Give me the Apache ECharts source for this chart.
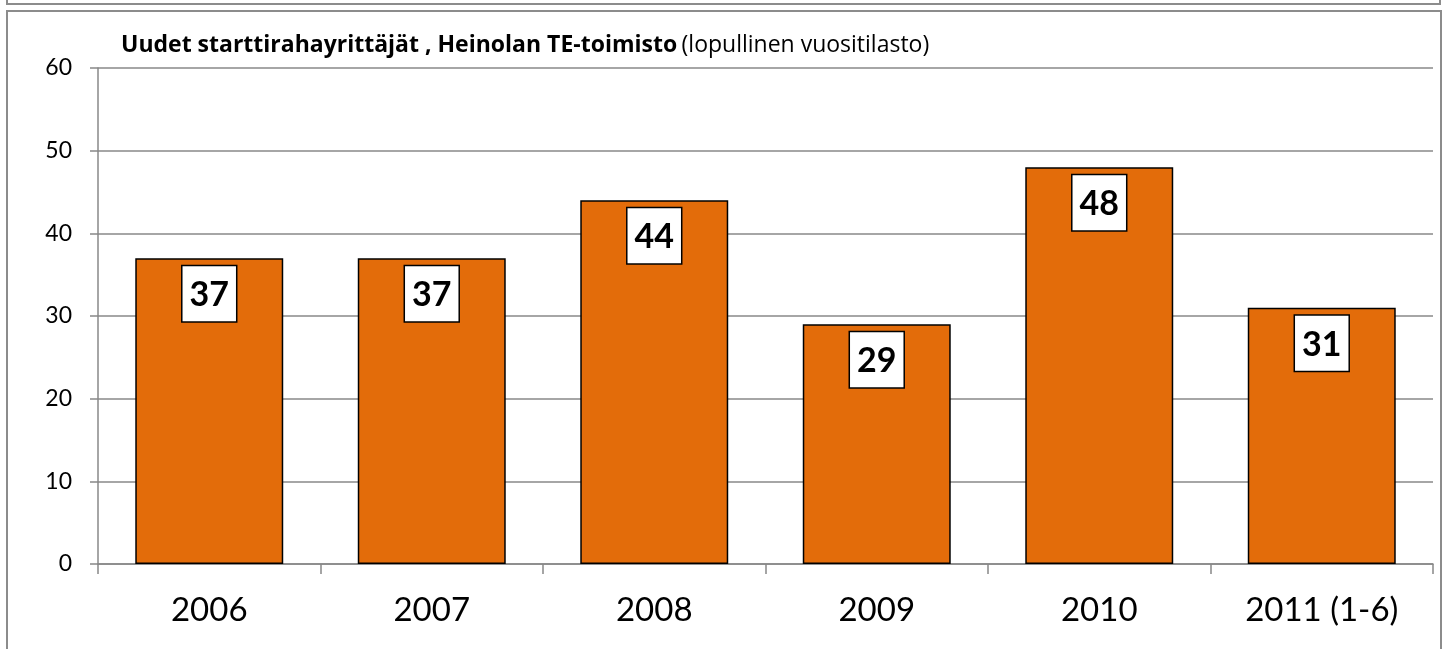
<!DOCTYPE html>
<html>
<head>
<meta charset="utf-8">
<script src="https://cdn.jsdelivr.net/npm/echarts@6/dist/echarts.min.js"></script>
<style>
body { margin: 0; background: #fff; }
#container { width: 1446px; height: 649px; }
</style>
</head>
<body>
<div id="container"></div>
<script>
var years = ['2006', '2007', '2008', '2009', '2010', '2011 (1-6)'];
var starters = [37, 37, 44, 29, 48, 31];
var yTicks = [0, 10, 20, 30, 40, 50, 60];

var dom = document.getElementById('container');
var myChart = echarts.init(dom);

var option = {
    animation: false,
    textStyle: { fontFamily: 'Lato' },
    title: {
        text: '{b|Uudet starttirahayrittäjät , Heinolan TE-toimisto} {n|(lopullinen vuositilasto)}',
        left: 116,
        top: 29,
        textStyle: {
            rich: {
                b: { fontSize: 23, fontWeight: 'bold', color: '#000', fontFamily: 'Open Sans' },
                n: { fontSize: 23, fontWeight: 'normal', color: '#000', fontFamily: 'Open Sans' }
            }
        }
    },
    graphic: [
        // upper box edge
        { type: 'polyline', shape: { points: [[7, -5], [7, 4], [1440, 4], [1440, -5]] },
          style: { stroke: '#8c8c8c', lineWidth: 2, fill: null } },
        // outer frame
        { type: 'polyline', shape: { points: [[7, 660], [7, 11], [1441, 11], [1441, 660]] },
          style: { stroke: '#8c8c8c', lineWidth: 2, fill: null } }
    ],
    grid: { left: 98, right: 13, top: 68, bottom: 85 },
    xAxis: {
        type: 'category',
        data: years,
        axisLine: { lineStyle: { color: '#888', width: 1.5 } },
        axisTick: { show: true, length: 10, lineStyle: { color: '#888', width: 1.5 } },
        axisLabel: { fontSize: 33, color: '#000', margin: 30 }
    },
    yAxis: {
        type: 'value',
        min: 0,
        max: 60,
        interval: 10,
        axisLine: { show: true, lineStyle: { color: '#888', width: 1.5 } },
        axisTick: { show: true, length: 8, lineStyle: { color: '#888', width: 1.5 } },
        axisLabel: {
            fontSize: 23, color: '#000', margin: 26,
            formatter: function (v) { return yTicks.indexOf(v) >= 0 ? String(v) : ''; }
        },
        splitLine: { lineStyle: { color: '#888', width: 1.5 } }
    },
    series: [{
        type: 'bar',
        data: starters,
        barCategoryGap: '33.5%',
        itemStyle: { color: '#e36c0a', borderColor: '#000', borderWidth: 1.5 },
        label: {
            show: true,
            position: 'insideTop',
            distance: 8,
            fontSize: 34,
            fontWeight: 'bold',
            color: '#000',
            backgroundColor: '#fff',
            borderColor: '#000',
            borderWidth: 1.5,
            padding: [12, 7, 9, 7]
        }
    }]
};

myChart.setOption(option);
</script>
</body>
</html>
